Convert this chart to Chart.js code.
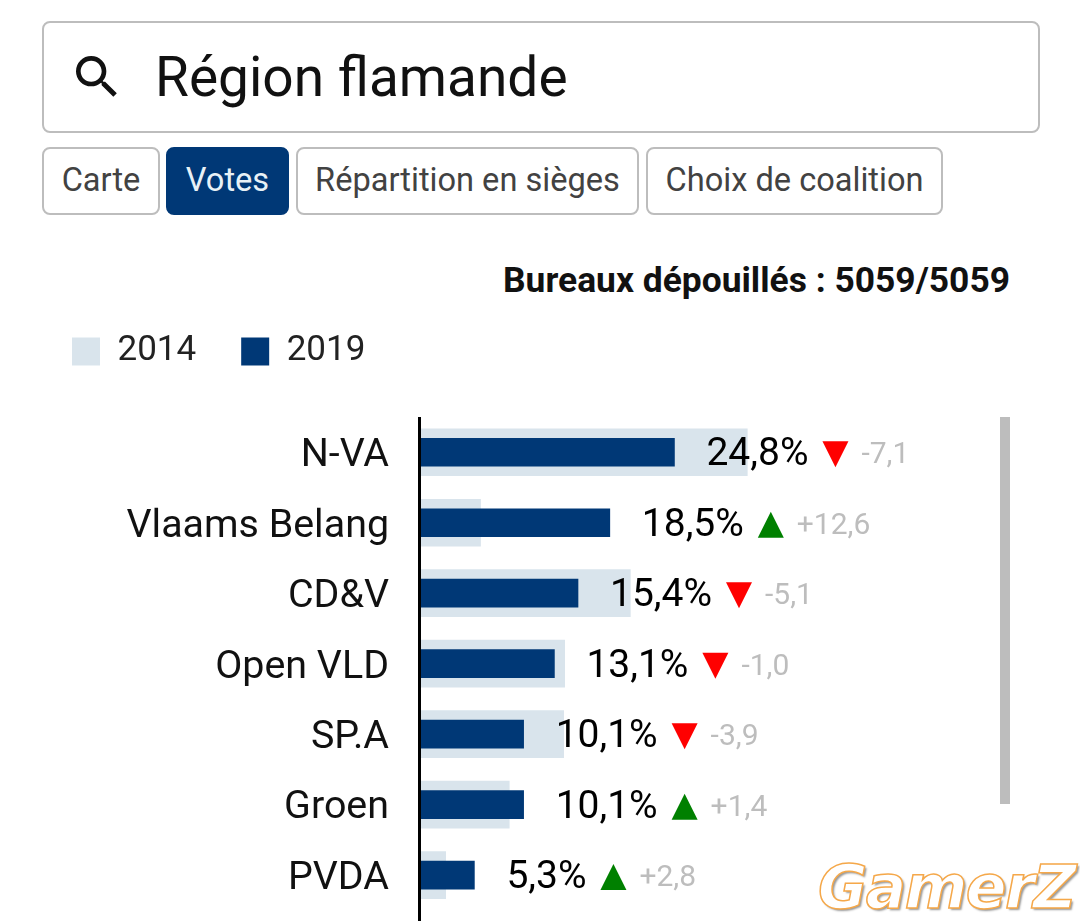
<!DOCTYPE html>
<html lang="fr">
<head>
<meta charset="utf-8">
<title>Région flamande</title>
<script src="https://cdn.jsdelivr.net/npm/chart.js@4"></script>
<style>
    html, body { margin: 0; padding: 0; width: 1080px; height: 921px; overflow: hidden; background: #fff; font-family: Roboto, sans-serif; }
    .search-box { position: absolute; left: 42px; top: 21px; width: 994px; height: 108px; border: 2px solid #bdbdbd; border-radius: 8px; }
    .search-box svg { position: absolute; left: 25px; top: 26px; width: 56px; height: 56px; }
    .search-box span { position: absolute; left: 111px; top: 22px; font-size: 55px; line-height: 64px; color: #111; }
    .tab { position: absolute; top: 147px; height: 64px; border: 2px solid #bdbdbd; border-radius: 8px; font-size: 32.6px; line-height: 63px; color: #424242; text-align: center; }
    .tab.active { background: #003876; border-color: #003876; color: #e8f1f6; }
    .counter { position: absolute; right: 70px; top: 260px; font-size: 35.4px; line-height: 40px; font-weight: 700; color: #111; white-space: nowrap; }
    /* chart runs past the bottom of the page, the list scrolls in the original */
    .chart-wrap { position: absolute; left: 0; top: 289px; width: 1080px; height: 676px; }
    .scroll-bar { position: absolute; left: 1000px; top: 417px; width: 10px; height: 387px; background: #bdbdbd; }
    .watermark { position: absolute; left: 818px; top: 852px; font: italic 700 60px "DejaVu Sans", sans-serif; letter-spacing: -1.5px; color: #fff; -webkit-text-stroke: 1.5px #f5a84a; text-shadow: 2px 2px 2px #999; white-space: nowrap; }
</style>
</head>
<body>
    <div class="search-box">
        <svg viewBox="0 0 24 24"><path fill="#111" d="M15.5 14h-.79l-.28-.27A6.47 6.47 0 0 0 16 9.5 6.5 6.5 0 1 0 9.5 16c1.61 0 3.09-.59 4.23-1.57l.27.28v.79l5 4.99L20.49 19l-4.99-5zm-6 0C7.01 14 5 11.99 5 9.5S7.01 5 9.5 5 14 7.01 14 9.5 11.99 14 9.5 14z"/></svg>
        <span>Région flamande</span>
    </div>
    <div class="tab" style="left:42px;width:114px;">Carte</div>
    <div class="tab active" style="left:166px;width:119px;">Votes</div>
    <div class="tab" style="left:296px;width:339px;">Répartition en sièges</div>
    <div class="tab" style="left:646px;width:293px;">Choix de coalition</div>
    <div class="counter">Bureaux dépouillés : 5059/5059</div>

    <div class="chart-wrap"><canvas id="votesChart"></canvas></div>
    <div class="scroll-bar"></div>
    <div class="watermark">GamerZ</div>

<script>
const parties = ['N-VA', 'Vlaams Belang', 'CD&V', 'Open VLD', 'SP.A', 'Groen', 'PVDA'];
const votes2014 = [31.9, 5.9, 20.5, 14.1, 14.0, 8.7, 2.5];
const votes2019 = [24.8, 18.5, 15.4, 13.1, 10.1, 10.1, 5.3];
const deltas = [-7.1, 12.6, -5.1, -1.0, -3.9, 1.4, 2.8];

const frNumber = (v) => v.toFixed(1).replace('.', ',');

// value, arrow and delta after each 2019 bar, plus the axis line running off the page
const rowLabels = {
    id: 'rowLabels',
    afterDatasetsDraw(chart) {
        const { ctx, scales: { x, y }, chartArea, height } = chart;
        ctx.save();
        ctx.fillStyle = '#000';
        ctx.fillRect(chartArea.left - 2, chartArea.top, 3, height - chartArea.top);

        votes2019.forEach((value, i) => {
            const rowY = y.getPixelForValue(i);
            let cursor = x.getPixelForValue(value) + 32;

            const text = frNumber(value) + '%';
            ctx.textBaseline = 'alphabetic';
            ctx.textAlign = 'left';
            ctx.font = '39px Roboto';
            ctx.fillStyle = '#000';
            ctx.fillText(text, cursor, rowY + 13);
            cursor += ctx.measureText(text).width + 14;

            const up = deltas[i] > 0;
            const top = rowY - 11, bottom = rowY + 15;
            ctx.fillStyle = up ? '#008000' : '#ff0000';
            ctx.beginPath();
            ctx.moveTo(cursor, up ? bottom : top);
            ctx.lineTo(cursor + 26, up ? bottom : top);
            ctx.lineTo(cursor + 13, up ? top : bottom);
            ctx.closePath();
            ctx.fill();
            cursor += 26 + 13;

            ctx.font = '30px Roboto';
            ctx.fillStyle = '#bdbdbd';
            ctx.fillText((up ? '+' : '-') + frNumber(Math.abs(deltas[i])), cursor, rowY + 11);
        });
        ctx.restore();
    }
};

new Chart(document.getElementById('votesChart'), {
    type: 'bar',
    data: {
        labels: parties,
        datasets: [
            { label: '2014', data: votes2014, backgroundColor: '#d9e4ec', barThickness: 47, order: 2 },
            { label: '2019', data: votes2019, backgroundColor: '#003876', barThickness: 28, order: 1 }
        ]
    },
    options: {
        indexAxis: 'y',
        responsive: true,
        maintainAspectRatio: false,
        animation: false,
        grouped: false,
        layout: { padding: { left: 27, right: 147, bottom: 11 } },
        plugins: {
            tooltip: { enabled: false },
            legend: {
                position: 'top',
                align: 'start',
                labels: {
                    boxWidth: 28,
                    boxHeight: 28,
                    padding: 45,
                    color: '#222',
                    font: { family: 'Roboto', size: 35 },
                    sort: (a, b) => a.datasetIndex - b.datasetIndex
                }
            }
        },
        scales: {
            // hidden axis, only holds the gap between the legend and the first row
            x: {
                position: 'top',
                min: 0,
                max: 50,
                grid: { display: false },
                border: { display: false },
                ticks: { display: false },
                afterFit: (scale) => { scale.height = 38; }
            },
            y: {
                grid: { display: false, drawTicks: false },
                border: { display: false },
                ticks: { color: '#111', padding: 31, labelOffset: 4, font: { family: 'Roboto', size: 39.4 } },
                afterFit: (scale) => { scale.width = 393; }
            }
        }
    },
    plugins: [rowLabels]
});
</script>
</body>
</html>
